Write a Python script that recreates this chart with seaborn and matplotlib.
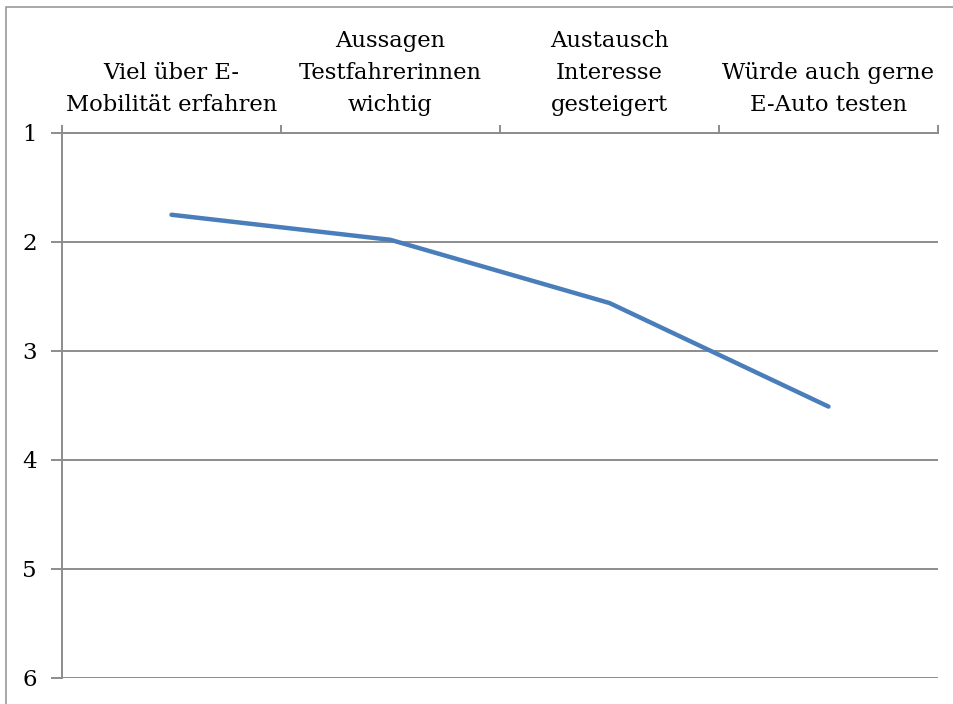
import numpy as np
import pandas as pd
import matplotlib
matplotlib.use("Agg")
import matplotlib.pyplot as plt
import seaborn as sns
from matplotlib.patches import Rectangle

# Daten
kategorien = [
    "Viel über E-\nMobilität erfahren",
    "Aussagen\nTestfahrerinnen\nwichtig",
    "Austausch\nInteresse\ngesteigert",
    "Würde auch gerne\nE-Auto testen",
]
werte = [1.75, 1.98, 2.56, 3.51]
y_ticks = [1, 2, 3, 4, 5, 6]

sns.set_style("white")
plt.rcParams["font.family"] = ["DejaVu Serif"]

df = pd.DataFrame({"pos": np.arange(len(kategorien)), "wert": werte})

fig = plt.figure(figsize=(9.54, 7.04), dpi=100)
ax = fig.add_axes([62 / 954, 1 - 678 / 704, (938 - 62) / 954, (678 - 133) / 704])

grau = "#8c8c8c"
sns.lineplot(data=df, x="pos", y="wert", ax=ax, color="#4a7ebb", linewidth=3.2, zorder=3)

ax.set_xlim(-0.5, len(kategorien) - 0.5)
ax.set_ylim(6, 1)
ax.set_yticks(y_ticks)
ax.set_yticklabels([str(t) for t in y_ticks], fontsize=16.5, color="black")
ax.yaxis.grid(True, color=grau, linewidth=1.4)
ax.tick_params(axis="y", direction="out", length=8, width=1.4, color=grau, pad=10, left=True)

# Kategorien oben
ax.xaxis.tick_top()
ax.set_xticks(np.arange(len(kategorien)))
ax.set_xticklabels(kategorien, fontsize=16.3, linespacing=1.6, color="black")
ax.set_xticks(np.arange(-0.5, len(kategorien)), minor=True)
ax.tick_params(axis="x", which="major", length=0, pad=12, top=True)
ax.tick_params(axis="x", which="minor", direction="out", length=6, width=1.4, color=grau, top=True)

for side in ["right", "bottom"]:
    ax.spines[side].set_visible(False)
for side in ["left", "top"]:
    ax.spines[side].set_color(grau)
    ax.spines[side].set_linewidth(1.4)

ax.set_xlabel("")
ax.set_ylabel("")

# Rahmen des Diagramms
fig.patches.append(Rectangle((6 / 954, -0.1), 1.2, 1 - 7 / 704 + 0.1, transform=fig.transFigure,
                             fill=False, edgecolor="#9a9a9a", linewidth=1.2))

fig.savefig("out.png", dpi=100)
